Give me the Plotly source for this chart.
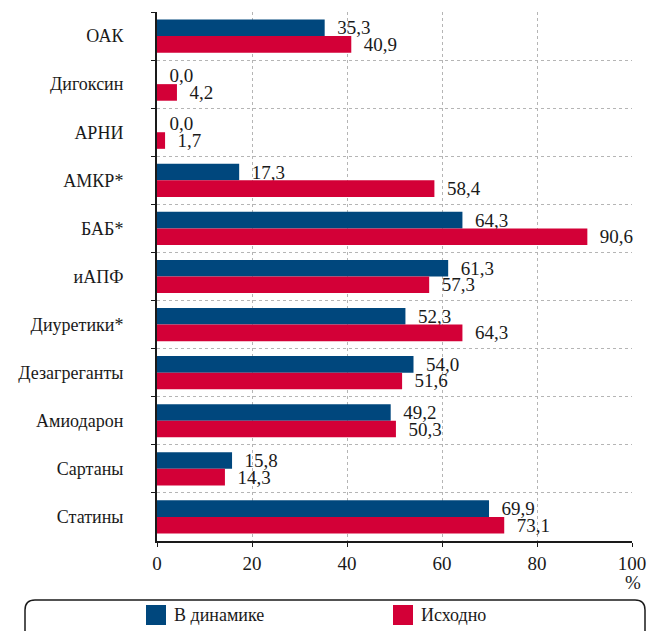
import plotly.graph_objects as go

categories = ["ОАК", "Дигоксин", "АРНИ", "АМКР*", "БАБ*", "иАПФ", "Диуретики*",
              "Дезагреганты", "Амиодарон", "Сартаны", "Статины"]
dynamic_vals = [35.3, 0.0, 0.0, 17.3, 64.3, 61.3, 52.3, 54.0, 49.2, 15.8, 69.9]
baseline_vals = [40.9, 4.2, 1.7, 58.4, 90.6, 57.3, 64.3, 51.6, 50.3, 14.3, 73.1]
series_names = ["В динамике", "Исходно"]
x_ticks = [0, 20, 40, 60, 80, 100]

BLUE = "#00477d"
RED = "#d30037"
FONT = "Liberation Serif"
INK = "#1a1a1a"

W, H = 647, 631
L, R, T, B = 157, 15, 12, 90
PW, PH = W - L - R, H - T - B


def px(x):
    return (x - L) / PW


def py(y):
    return (H - B - y) / PH


def fmt(v):
    return "\u00a0\u00a0" + f"{v:.1f}".replace(".", ",")


fig = go.Figure()
for name, vals, col in [(series_names[0], dynamic_vals, BLUE), (series_names[1], baseline_vals, RED)]:
    fig.add_trace(go.Bar(
        y=categories, x=vals, orientation="h", name=name,
        marker=dict(color=col, line=dict(width=0)),
        text=[fmt(v) for v in vals], textposition="outside",
        constraintext="none",
        textfont=dict(family=FONT, size=19, color=INK),
        cliponaxis=False, showlegend=False,
    ))

fig.update_layout(
    width=W, height=H,
    margin=dict(l=L, r=R, t=T, b=B, autoexpand=False),
    paper_bgcolor="white", plot_bgcolor="white",
    barmode="group", bargap=0.31, bargroupgap=0,
    font=dict(family=FONT, size=17, color=INK),
)
fig.update_xaxes(
    range=[0, 100], tickvals=x_ticks, ticktext=[str(t) for t in x_ticks],
    showgrid=True, gridcolor="#b5b5b5", griddash="dot", gridwidth=1,
    showline=True, linecolor=INK, linewidth=1.5,
    ticks="outside", ticklen=4, tickcolor=INK,
    tickfont=dict(family=FONT, size=19), zeroline=False, automargin=False,
)
fig.update_yaxes(
    autorange="reversed", type="category", tickson="boundaries",
    showgrid=True, gridcolor="#b5b5b5", griddash="dot", gridwidth=1,
    showline=True, linecolor=INK, linewidth=2,
    ticks="outside", ticklen=4, tickcolor=INK,
    ticklabelstandoff=28, automargin=False,
    tickfont=dict(family=FONT, size=18),
)

fig.add_annotation(x=px(633), y=py(582), xref="paper", yref="paper", text="%",
                   showarrow=False, font=dict(family=FONT, size=19, color=INK),
                   xanchor="center", yanchor="middle")

# legend box (rounded top corners)
x0, x1, y0, y1, r = 25, 645, 600, 660, 10
path = (f"M {px(x0)},{py(y1)} L {px(x0)},{py(y0 + r)} "
        f"Q {px(x0)},{py(y0)} {px(x0 + r)},{py(y0)} "
        f"L {px(x1 - r)},{py(y0)} Q {px(x1)},{py(y0)} {px(x1)},{py(y0 + r)} "
        f"L {px(x1)},{py(y1)}")
fig.add_shape(type="path", path=path, xref="paper", yref="paper",
              line=dict(color=INK, width=1.5))

for (sx, tx), name, col in zip([(146, 172), (393, 419)], series_names, [BLUE, RED]):
    fig.add_shape(type="rect", xref="paper", yref="paper",
                  x0=px(sx), x1=px(sx + 20), y0=py(625), y1=py(605),
                  fillcolor=col, line=dict(width=0))
    fig.add_annotation(x=px(tx), y=py(615), xref="paper", yref="paper", text=name,
                       showarrow=False, xanchor="left", yanchor="middle",
                       font=dict(family=FONT, size=18, color=INK))

fig.write_html("out.html")
